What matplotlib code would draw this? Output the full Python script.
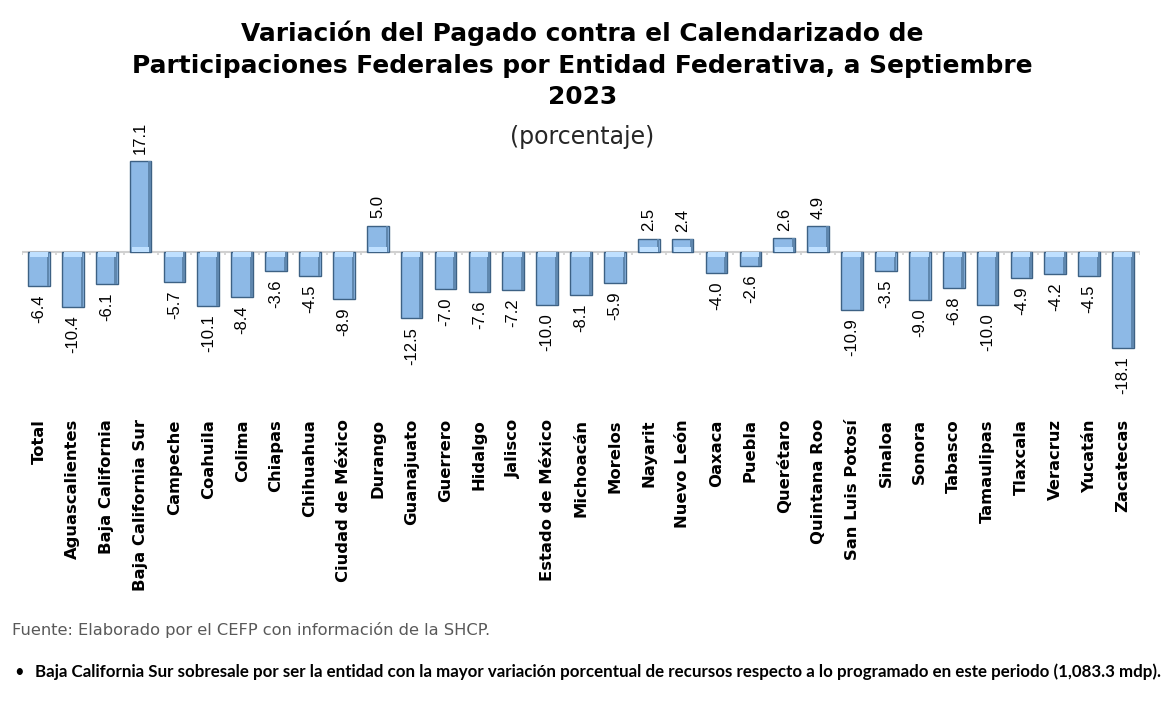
import matplotlib
matplotlib.use("Agg")
import matplotlib.pyplot as plt
import numpy as np

entidades = [
    "Total", "Aguascalientes", "Baja California", "Baja California Sur", "Campeche",
    "Coahuila", "Colima", "Chiapas", "Chihuahua", "Ciudad de México", "Durango",
    "Guanajuato", "Guerrero", "Hidalgo", "Jalisco", "Estado de México", "Michoacán",
    "Morelos", "Nayarit", "Nuevo León", "Oaxaca", "Puebla", "Querétaro",
    "Quintana Roo", "San Luis Potosí", "Sinaloa", "Sonora", "Tabasco", "Tamaulipas",
    "Tlaxcala", "Veracruz", "Yucatán", "Zacatecas",
]
variacion = [
    -6.4, -10.4, -6.1, 17.1, -5.7, -10.1, -8.4, -3.6, -4.5, -8.9, 5.0,
    -12.5, -7.0, -7.6, -7.2, -10.0, -8.1, -5.9, 2.5, 2.4, -4.0, -2.6, 2.6,
    4.9, -10.9, -3.5, -9.0, -6.8, -10.0, -4.9, -4.2, -4.5, -18.1,
]

titulo = "Variación del Pagado contra el Calendarizado de\nParticipaciones Federales por Entidad Federativa, a Septiembre\n2023"
subtitulo = "(porcentaje)"
fuente = "Fuente: Elaborado por el CEFP con información de la SHCP."
nota = "Baja California Sur sobresale por ser la entidad con la mayor variación porcentual de recursos respecto a lo programado en este periodo (1,083.3 mdp)."

W, H = 1165, 702
fig = plt.figure(figsize=(W / 100, H / 100), dpi=100)

# ejes en pixeles: x 22..1140, y 150..415 (cero en y=252)
ax = fig.add_axes([22 / W, 1 - 415 / H, (1140 - 22) / W, (415 - 150) / H])
x = np.arange(len(entidades))
ax.bar(x, variacion, width=0.64, color="#8DB9E6", edgecolor="#3D6184", linewidth=1.0, zorder=3)
# bisel: lado derecho oscuro y brillo en el extremo pegado al eje
ax.bar(x + 0.27, variacion, width=0.08, color="#5F87AE", linewidth=0, zorder=4)
for xi, v in zip(x, variacion):
    cap = min(abs(v), 0.9) * np.sign(v)
    ax.bar(xi, cap, width=0.52, color="#BFE0FF", linewidth=0, zorder=4)

ax.set_xlim(-0.5, len(entidades) - 0.5)
ax.set_ylim(-30.75, 19.25)
ax.axhline(0, color="#D0D0D0", linewidth=1.5, zorder=2)
ax.vlines(np.arange(len(entidades) + 1) - 0.5, -0.6, 0, color="#D0D0D0", linewidth=1.2, zorder=2)

for xi, v in zip(x, variacion):
    if v >= 0:
        ax.text(xi, v + 1.4, f"{v:.1f}", rotation=90, ha="center", va="bottom",
                fontsize=12, family="Liberation Sans", color="black")
    else:
        ax.text(xi, v - 1.6, f"{v:.1f}", rotation=90, ha="center", va="top",
                fontsize=12, family="Liberation Sans", color="black")

ax.set_xticks(x)
ax.set_xticklabels(entidades, rotation=90, fontsize=11.8, fontweight="bold", family="DejaVu Sans")
ax.tick_params(axis="x", length=0, pad=3)
ax.set_yticks([])
for s in ax.spines.values():
    s.set_visible(False)

fig.text(0.5, 1 - 65 / H, titulo, ha="center", va="center", fontsize=17.9, fontweight="bold",
         family="DejaVu Sans", linespacing=1.4)
fig.text(0.5, 1 - 137 / H, subtitulo, ha="center", va="center", fontsize=17, color="#262626",
         family="DejaVu Sans")

fig.text(12 / W, 1 - 630 / H, fuente, ha="left", va="center", fontsize=11.7, color="#595959",
         family="DejaVu Sans")
fig.text(14 / W, 1 - 672 / H, "•", ha="left", va="center", fontsize=12, family="Lato")
fig.text(35 / W, 1 - 672 / H, nota, ha="left", va="center", fontsize=12.2, fontweight="bold",
         family="Lato")

fig.savefig("out.png", dpi=100)
